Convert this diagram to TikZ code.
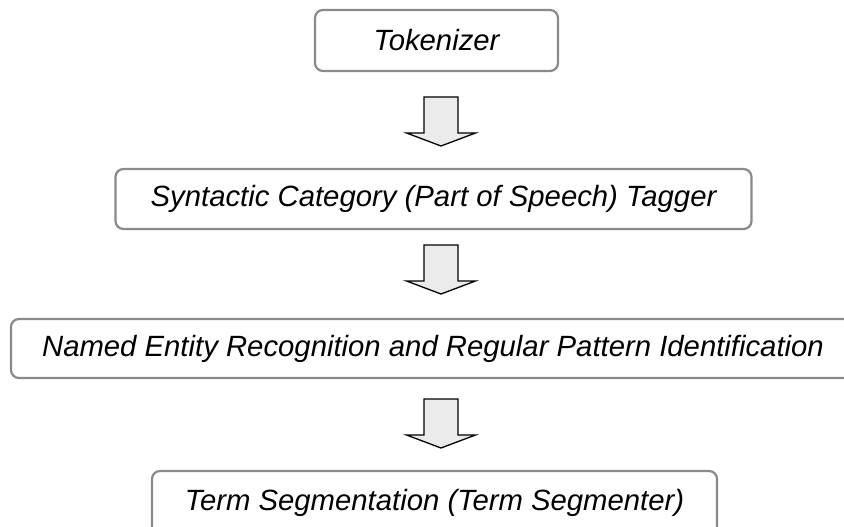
\documentclass[tikz,border=0pt]{standalone}
\usepackage{fontspec}
\setmainfont{Liberation Sans}
\definecolor{boxgray}{HTML}{8A8A8A}
\definecolor{arrowfill}{HTML}{EBEBEB}
\begin{document}
\begin{tikzpicture}[x=1pt,y=-1pt,
  stage/.style={draw=boxgray, line width=2.2pt, rounded corners=8pt, fill=white,
    inner sep=0pt, font=\fontsize{29.3}{35}\selectfont\itshape, text=black},
  blockarrow/.pic={
    \draw[line width=1.3pt, fill=arrowfill, line join=miter]
      (-17,0) -- (17,0) -- (17,36) -- (34.5,36) -- (0,49) -- (-34.5,36) -- (-17,36) -- cycle;
  }]
\useasboundingbox (0,0) rectangle (844,527);
\begin{scope}
\clip (0,0) rectangle (844,527);
\node[stage, minimum width=243pt, minimum height=61pt] (tok) at (436.5,40.5) {Tokenizer};
\node[stage, minimum width=636pt, minimum height=60pt] (pos) at (433.5,199) {Syntactic Category (Part of Speech) Tagger};
\node[stage, minimum width=844pt, minimum height=59pt] (ner) at (433,348.5) {Named Entity Recognition and Regular Pattern Identification};
\node[stage, minimum width=565pt, minimum height=64pt] (seg) at (434.5,503) {Term Segmentation (Term Segmenter)};
\end{scope}
\coordinate (a1) at (441,97);
\coordinate (a2) at (441,245);
\coordinate (a3) at (441,399);
\pic at (a1) {blockarrow};
\pic at (a2) {blockarrow};
\pic at (a3) {blockarrow};
\end{tikzpicture}
\end{document}
